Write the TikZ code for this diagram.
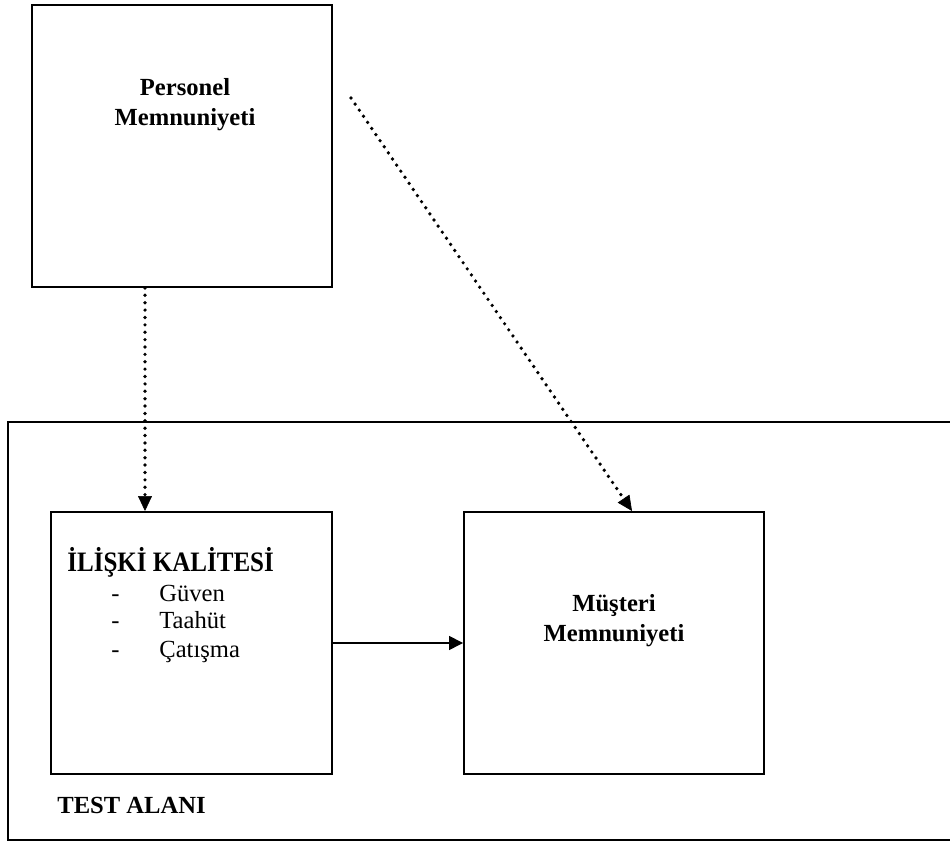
\documentclass[tikz,border=0pt]{standalone}
\usepackage{graphicx}
\usepackage{fontspec}
\setmainfont{Liberation Serif}
\usetikzlibrary{arrows.meta,positioning}

\begin{document}
\begin{tikzpicture}[
  box/.style={draw,line width=1.1pt,inner sep=0pt},
  txt/.style={inner sep=0pt,align=center,font=\fontsize{14}{17}\selectfont\bfseries},
  item/.style={inner sep=0pt,anchor=base west,font=\fontsize{14}{17}\selectfont},
  dotarrow/.style={line width=2.1pt,line cap=round,dash pattern=on 0pt off 4.2pt,
    -{Triangle[length=0.3cm,width=0.28cm,line width=0.4pt]}}]
\useasboundingbox (0,0) rectangle (19,16.84);
\draw[line width=1.1pt] (19.1,8.40) -- (0.16,8.40) -- (0.16,0.04) -- (19.1,0.04);
\node[box,minimum width=6cm,minimum height=5.64cm] (pm) at (3.64,13.92) {};
\node[box,minimum width=5.62cm,minimum height=5.24cm] (ik) at (3.83,3.98) {};
\node[box,minimum width=6cm,minimum height=5.24cm] (mm) at (12.28,3.98) {};
\node[txt] (pmlbl) at (3.70,14.75) {Personel\\Memnuniyeti};
\node[txt] (mmlbl) at (12.28,4.43) {Müşteri\\Memnuniyeti};
\node[item,font=\fontsize{16}{17}\selectfont\bfseries] (iklbl) at (1.34,5.40) {\scalebox{.89}[1]{İLİŞKİ KALİTESİ}};
\foreach \y/\lbl [count=\i] in {4.80/Güven,4.26/Taahüt,3.68/Çatışma}{
  \node[item] (dash\i) at (2.22,\y) {-};
  \node[item] (it\i) at (3.18,\y) {\lbl};
}
\node[item,font=\fontsize{14}{17}\selectfont\bfseries] (test) at (1.14,0.56) {TEST ALANI};
\coordinate (start) at (7.02,14.88);
\draw[dotarrow] ([xshift=-0.74cm]pm.south) -- ([xshift=-0.74cm]pm.south |- ik.north);
\draw[dotarrow] (start) -- ([xshift=0.36cm]mm.north);
\draw[line width=0.85pt,-{Triangle[length=0.28cm,width=0.28cm]}] (ik.east) -- (mm.west);
\end{tikzpicture}
\end{document}
